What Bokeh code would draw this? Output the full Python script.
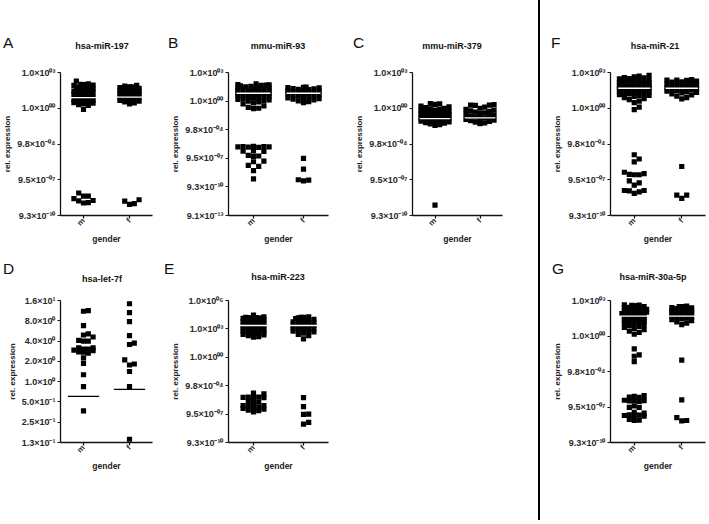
import math
from bokeh.plotting import figure
from bokeh.models import Range1d, FixedTicker, CustomJSTickFormatter, Spacer, ColumnDataSource, Div
from bokeh.layouts import row, column
from bokeh.embed import file_html
from bokeh.resources import INLINE

FONT = "Liberation Sans"

# ---------------- categories and ticks ----------------
genders = ["m", "f"]

ticks_std = [2.0**10, 2.0**0, 2.0**-10, 2.0**-20, 2.0**-30]
labels_std = ["1.0×10⁰³", "1.0×10⁰⁰", "9.8×10⁻⁰⁴", "9.5×10⁻⁰⁷", "9.3×10⁻¹⁰"]
ticks_b = [2.0**10, 2.0**0, 2.0**-10, 2.0**-20, 2.0**-30, 2.0**-40]
labels_b = ["1.0×10⁰³", "1.0×10⁰⁰", "9.8×10⁻⁰⁴", "9.5×10⁻⁰⁷", "9.3×10⁻¹⁰", "9.1×10⁻¹³"]
ticks_d = [16, 8, 4, 2, 1, 0.5, 0.25, 0.125]
labels_d = ["1.6×10¹", "8.0×10⁰", "4.0×10⁰", "2.0×10⁰", "1.0×10⁰", "5.0×10⁻¹", "2.5×10⁻¹", "1.3×10⁻¹"]
ticks_e = [2.0**20, 2.0**10, 2.0**0, 2.0**-10, 2.0**-20, 2.0**-30]
labels_e = ["1.0×10⁰⁶", "1.0×10⁰³", "1.0×10⁰⁰", "9.8×10⁻⁰⁴", "9.5×10⁻⁰⁷", "9.3×10⁻¹⁰"]

# ---------------- data: log2 of relative expression ----------------
# A  hsa-miR-197
a_m_log2 = [7.6, 6.8, 6.7, 6.6, 6.6, 6.5, 6.4, 6.0, 5.9, 5.8, 5.7, 5.6, 5.5, 5.4, 5.3, 5.2, 5.1, 5.0,
            4.9, 4.8, 4.7, 4.6, 4.5, 4.4, 4.3, 4.2, 4.1, 4.0, 3.9, 3.8, 3.7, 3.6, 3.5, 3.4, 3.3, 3.2,
            3.1, 3.0, 2.9, 2.8, 2.7, 2.6, 2.5, 2.4, 2.3, 2.2, 2.0, 1.8, 1.6, 1.4, 1.2, 1.0, 0.8, -0.35,
            -25.8, -24.6, -26.5, -24.6, -25.9, -23.7, -25.3, -26.4]
a_f_log2 = [6.4, 6.2, 6.0, 6.0, 5.8, 5.6, 5.4, 5.3, 5.1, 5.0, 4.8, 4.6, 4.5, 4.3, 4.1, 4.0, 3.8, 3.6,
            3.4, 3.2, 3.0, 2.8, 2.6, 2.4, 2.2, 2.0, 1.8, 1.5, 1.2,
            -26.0, -26.9, -26.7, -25.6]
a_lines_log2 = [3.0, 3.1]

# B  mmu-miR-93
b_m_log2 = [6.0, 5.8, 5.7, 5.6, 5.5, 5.3, 5.2, 5.0, 4.9, 4.8, 4.6, 4.5, 4.4, 4.2, 4.1, 4.0, 3.8, 3.7,
            3.6, 3.5, 3.3, 3.2, 3.1, 3.0, 2.9, 2.8, 2.7, 2.6, 2.5, 2.3, 2.2, 2.0, 1.9, 1.8, 1.6, 1.5,
            1.3, 1.1, 1.0, 0.8, 0.6, 0.4, 0.2, 0.0, -0.3, -0.6, -1.0, -1.7, -2.2, -2.5, -2.6,
            -15.8, -15.9, -16.0, -16.1, -16.0, -15.9, -16.2, -17.4, -17.6, -17.5, -19.0, -19.3, -19.2,
            -21.0, -21.2, -22.5, -22.8, -24.3, -27.2]
b_f_log2 = [4.9, 4.8, 4.7, 4.6, 4.4, 4.3, 4.1, 4.0, 3.8, 3.6, 3.5, 3.3, 3.1, 3.0, 2.8, 2.6, 2.5, 2.3,
            2.1, 1.9, 1.7, 1.5, 1.3, 1.1, 0.9, 0.7, 0.4, 0.1, -0.2, -0.5,
            -20.0, -23.8, -27.5, -27.9, -27.6]
b_lines_log2 = [2.75, 2.75]

# C  mmu-miR-379
c_m_log2 = [1.3, 1.2, 1.1, 0.6, 0.4, 0.2, 0.0, -0.2, -0.3, -0.5, -0.6, -0.8, -0.9, -1.0, -1.2, -1.3,
            -1.5, -1.6, -1.8, -1.9, -2.0, -2.2, -2.3, -2.5, -2.6, -2.8, -2.9, -3.0, -3.2, -3.3, -3.5,
            -3.6, -3.8, -4.0, -4.2, -4.4, -4.6, -4.8, -27.1]
c_f_log2 = [1.0, 0.9, 0.9, 0.8, 0.3, 0.0, -0.3, -0.5, -0.7, -0.9, -1.1, -1.3, -1.5, -1.7, -1.9, -2.1,
            -2.3, -2.5, -2.7, -2.9, -3.1, -3.3, -3.5, -3.7, -3.9, -4.1, -4.3]
c_lines_log2 = [-2.9, -2.7]

# D  hsa-let-7f
d_m_log2 = [3.5, 3.47, 2.76, 2.2, 2.3, 2.35, 2.0, 2.0, 2.03, 1.66, 1.6, 1.55, 1.45, 1.4, 1.47, 1.53,
            1.6, 1.66, 1.17, 0.9, 0.34, -0.25, -1.44]
d_f_log2 = [3.84, 3.4, 2.96, 2.27, 1.83, 1.9, 1.07, 0.82, 0.87, 0.5, -0.25, -2.84]
d_lines_log2 = [-0.73, -0.38]

# E  hsa-miR-223
e_m_log2 = [14.9, 14.2, 14.1, 14.0, 14.0, 13.9, 13.7, 13.6, 13.5, 13.4, 13.3, 13.1, 13.0, 12.9, 12.8,
            12.6, 12.5, 12.4, 12.3, 12.1, 12.0, 11.9, 11.8, 11.7, 11.5, 11.4, 11.3, 11.2, 11.1, 11.0,
            10.9, 10.8, 10.6, 10.5, 10.4, 10.3, 10.1, 10.0, 9.9, 9.8, 9.6, 9.5, 9.3, 9.2, 9.0, 8.9,
            8.7, 8.5, 8.3, 8.1, 7.9, 7.6, 7.3, 7.1,
            -12.6, -12.9, -14.0, -14.1, -14.2, -14.1, -14.0, -15.8, -15.9, -15.6, -17.0, -17.6, -17.5,
            -17.1, -17.0, -19.2, -18.8, -18.3, -18.6, -18.0]
e_f_log2 = [14.2, 14.1, 14.1, 13.9, 13.6, 13.4, 13.2, 13.0, 12.8, 12.6, 12.5, 12.3, 12.1, 12.0, 11.8,
            11.6, 11.5, 11.3, 11.2, 11.0, 10.8, 10.7, 10.5, 10.3, 10.1, 9.9, 9.7, 9.5, 9.2, 8.9,
            8.5, 8.1, 7.6, 6.5,
            -14.2, -17.4, -20.1, -20.0, -23.5, -22.9]
e_lines_log2 = [11.2, 11.2]

# F  hsa-miR-21
f_m_log2 = [9.3, 9.0, 8.8, 8.6, 8.5, 8.3, 8.2, 8.0, 7.9, 7.7, 7.6, 7.5, 7.4, 7.2, 7.1, 7.0, 6.9, 6.8,
            6.6, 6.5, 6.4, 6.3, 6.2, 6.0, 5.9, 5.8, 5.7, 5.6, 5.5, 5.4, 5.2, 5.1, 5.0, 4.9, 4.8, 4.6,
            4.5, 4.4, 4.3, 4.1, 4.0, 3.8, 3.6, 3.5, 3.3, 3.0, 2.7, 2.4, 2.0, 1.6, 0.3, -0.4,
            -13.0, -14.2, -15.0, -17.9, -18.6, -18.3, -18.6, -18.5, -20.3, -20.9, -21.5, -23.0,
            -23.4, -23.8, -23.1, -23.0]
f_f_log2 = [8.0, 7.9, 7.9, 7.8, 7.6, 7.4, 7.3, 7.1, 7.0, 6.8, 6.7, 6.5, 6.4, 6.2, 6.1, 5.9, 5.8, 5.7,
            5.5, 5.4, 5.2, 5.1, 4.9, 4.8, 4.6, 4.4, 4.3, 4.0, 3.7, 3.4, 3.0, 2.6,
            -16.3, -24.3, -25.2, -24.3]
f_lines_log2 = [5.6, 5.6]

# G  hsa-miR-30a-5p
g_m_log2 = [8.8, 8.7, 8.6, 8.5, 8.5, 8.3, 8.1, 8.0, 7.8, 7.7, 7.5, 7.4, 7.3, 7.1, 7.0, 6.9, 6.7, 6.6,
            6.5, 6.3, 6.2, 6.0, 5.9, 5.8, 5.6, 5.5, 5.4, 5.2, 5.1, 4.9, 4.8, 4.6, 4.5, 4.3, 4.1, 4.0,
            3.8, 3.6, 3.4, 3.2, 3.0, 2.7, 2.4, 2.1, 1.8, 1.4, 1.0, 0.5,
            -3.6, -5.3, -5.7, -7.2,
            -16.8, -17.3, -17.0, -17.2, -18.2, -18.3, -18.1, -18.2, -18.4, -20.1, -19.7, -20.1,
            -21.5, -21.7, -22.4, -22.6, -22.4, -22.3, -22.2, -23.8, -23.7, -23.5]
g_f_log2 = [8.4, 8.3, 8.3, 8.2, 8.0, 7.9, 7.7, 7.6, 7.4, 7.2, 7.1, 6.9, 6.8, 6.6, 6.4, 6.3, 6.1, 5.9,
            5.8, 5.6, 5.4, 5.2, 5.0, 4.8, 4.6, 4.3, 4.0, 3.6, 3.2,
            -6.8, -18.0, -23.0, -23.9, -23.8]
g_lines_log2 = [5.6, 5.6]

MARKER = 5.2


def swarm(logs, px_per_unit, half, size=MARKER):
    """Horizontal offsets (pixels) so that squares do not overlap where there is room."""
    order = sorted(range(len(logs)), key=lambda i: logs[i])
    step = size / 2.0
    n = int(half // step)
    cands = [0.0]
    for k in range(1, n + 1):
        cands += [k * step, -k * step]
    placed = []
    offs = [0.0] * len(logs)
    for i in order:
        y = logs[i] * px_per_unit
        best, bestd = 0.0, -1.0
        for c in cands:
            d = min([max(abs(c - px), abs(y - py)) for px, py in placed], default=1e9)
            if d >= size:
                best = c
                break
            if d > bestd:
                bestd, best = d, c
        offs[i] = best
        placed.append((best, y))
    return offs


def make_header(width, height, letter, letter_x, letter_base, title, title_cx, title_cy):
    html = (
        f'<div style="position:relative;width:{width}px;height:{height}px;margin:0;padding:0;'
        f"font-family:'{FONT}',Arial,sans-serif;color:#111111;\">"
        f'<span style="position:absolute;left:{letter_x}px;top:{letter_base - 13.1:.1f}px;'
        f'font-size:15.5px;line-height:15.5px;white-space:nowrap;">{letter}</span>'
        f'<span style="position:absolute;left:{title_cx - 70}px;width:140px;text-align:center;'
        f'top:{title_cy - 4.5:.1f}px;font-size:9px;line-height:9px;font-weight:bold;'
        f'white-space:nowrap;">{title}</span>'
        '</div>'
    )
    return Div(text=html, width=width, height=height, margin=0)


def make_panel(m_log2, f_log2, lines_log2, ticks, labels,
               width, height, L, R, T, B, half, line_color):
    lo, hi = min(ticks), max(ticks)
    fw = width - L - R
    fh = height - T - B
    p = figure(width=width, height=height, x_range=Range1d(0, 2), y_range=Range1d(lo, hi),
               y_axis_type="log", output_backend="svg", toolbar_location=None,
               min_border_left=L, min_border_right=R, min_border_top=T, min_border_bottom=B)
    p.outline_line_color = None
    p.grid.visible = False

    ppu = fh / (math.log2(hi) - math.log2(lo))
    ppx = fw / 2.0
    xs, ys = [], []
    for gi, grp in enumerate([m_log2, f_log2]):
        offs = swarm(grp, ppu, half)
        for v, o in zip(grp, offs):
            xs.append(gi + 0.5 + o / ppx)
            ys.append(2.0 ** v)
    src = ColumnDataSource(dict(x=xs, y=ys))
    p.scatter("x", "y", source=src, marker="square", size=MARKER, color="black", line_color=None)

    seg = ColumnDataSource(dict(x0=[0.5 - 17 / ppx, 1.5 - 17 / ppx], x1=[0.5 + 17 / ppx, 1.5 + 17 / ppx],
                                y=[2.0 ** v for v in lines_log2]))
    p.segment(x0="x0", y0="y", x1="x1", y1="y", source=seg, line_color=line_color, line_width=1.3)

    p.yaxis.ticker = FixedTicker(ticks=ticks, minor_ticks=[])
    p.yaxis.formatter = CustomJSTickFormatter(args=dict(vals=ticks, labs=labels), code="""
        for (let i = 0; i < vals.length; i++) {
            if (Math.abs(Math.log2(tick) - Math.log2(vals[i])) < 0.01) return labs[i];
        }
        return "";
    """)
    p.xaxis.ticker = FixedTicker(ticks=[0.5, 1.5], minor_ticks=[])
    p.xaxis.formatter = CustomJSTickFormatter(args=dict(labs=genders),
                                              code="return labs[Math.round(tick - 0.5)];")
    p.xaxis.major_label_orientation = math.pi / 4
    for ax in (p.xaxis, p.yaxis):
        ax.axis_line_width = 1.3
        ax.axis_line_color = "#111111"
        ax.major_tick_line_color = "#111111"
        ax.major_tick_line_width = 1.2
        ax.major_tick_out = 3
        ax.major_tick_in = 0
        ax.minor_tick_line_color = None
        ax.major_label_text_font = FONT
        ax.major_label_text_font_style = "bold"
        ax.major_label_text_color = "#2a2a2a"
        ax.axis_label_text_font = FONT
        ax.axis_label_text_font_style = "bold"
        ax.axis_label_text_color = "#222222"
    p.yaxis.major_label_standoff = 2
    p.yaxis.axis_label_standoff = 2
    p.xaxis.major_label_standoff = 1
    p.xaxis.axis_label_standoff = 0
    p.yaxis.major_label_text_font_size = "9px"
    p.xaxis.major_label_text_font_size = "8px"
    p.yaxis.axis_label_text_font_size = "8px"
    p.xaxis.axis_label_text_font_size = "8.5px"
    p.xaxis.axis_label = "gender"
    p.yaxis.axis_label = "rel. expression"
    return p


# ---------------- layout (pixels) ----------------
HT, PT, HB, PB = 62, 188, 40, 230          # header / panel heights, top and bottom rows
W1, W2, W3, W4 = 163, 189, 186, 159         # column widths
L1, L2, L3, L4 = 52, 65, 50, 55             # left borders (frame starts)
R1, R2, R3, R4 = 11, 24, 36, 4

pa = make_panel(a_m_log2, a_f_log2, a_lines_log2, ticks_std, labels_std, W1, PT, L1, R1, 10, 35, 13, "white")
pb = make_panel(b_m_log2, b_f_log2, b_lines_log2, ticks_b, labels_b, W2, PT, L2, R2, 10, 35, 16, "white")
pc = make_panel(c_m_log2, c_f_log2, c_lines_log2, ticks_std, labels_std, W3, PT, L3, R3, 10, 35, 16, "white")
pf = make_panel(f_m_log2, f_f_log2, f_lines_log2, ticks_std, labels_std, W4, PT, L4, R4, 10, 35, 16, "white")
pd = make_panel(d_m_log2, d_f_log2, d_lines_log2, ticks_d, labels_d, W1, PB, L1, R1, 10, 78, 13, "black")
pe = make_panel(e_m_log2, e_f_log2, e_lines_log2, ticks_e, labels_e, W2, PB, L2, R2, 10, 78, 13, "white")
pg = make_panel(g_m_log2, g_f_log2, g_lines_log2, ticks_std, labels_std, W4, PB, L4, R4, 10, 78, 15, "white")

ha = make_header(W1, HT, "A", 3, 48, "hsa-miR-197", L1 + 50, 46)
hb = make_header(W2, HT, "B", 5, 48, "mmu-miR-93", L2 + 50, 46)
hc = make_header(W3, HT, "C", 1, 48, "mmu-miR-379", L3 + 50, 46)
hf = make_header(W4, HT, "F", 1, 48, "hsa-miR-21", L4 + 50, 46)
hd = make_header(W1, HB, "D", 3, 24, "hsa-let-7f", L1 + 50, 29)
he = make_header(W2, HB, "E", 1, 24, "hsa-miR-223", L2 + 50, 27)
hg = make_header(W4, HB, "G", 2, 24, "hsa-miR-30a-5p", L4 + 48, 27)

TOTAL_H = HT + PT + HB + PB
divider = Spacer(width=2, height=TOTAL_H, styles={"background-color": "black"})
layout = row(
    column(ha, pa, hd, pd, spacing=0),
    column(hb, pb, he, pe, spacing=0),
    column(hc, pc, Spacer(width=W3, height=HB + PB), spacing=0),
    divider,
    Spacer(width=10, height=TOTAL_H),
    column(hf, pf, hg, pg, spacing=0),
    spacing=0,
)

with open("out.html", "w") as fh_out:
    fh_out.write(file_html(layout, INLINE))
